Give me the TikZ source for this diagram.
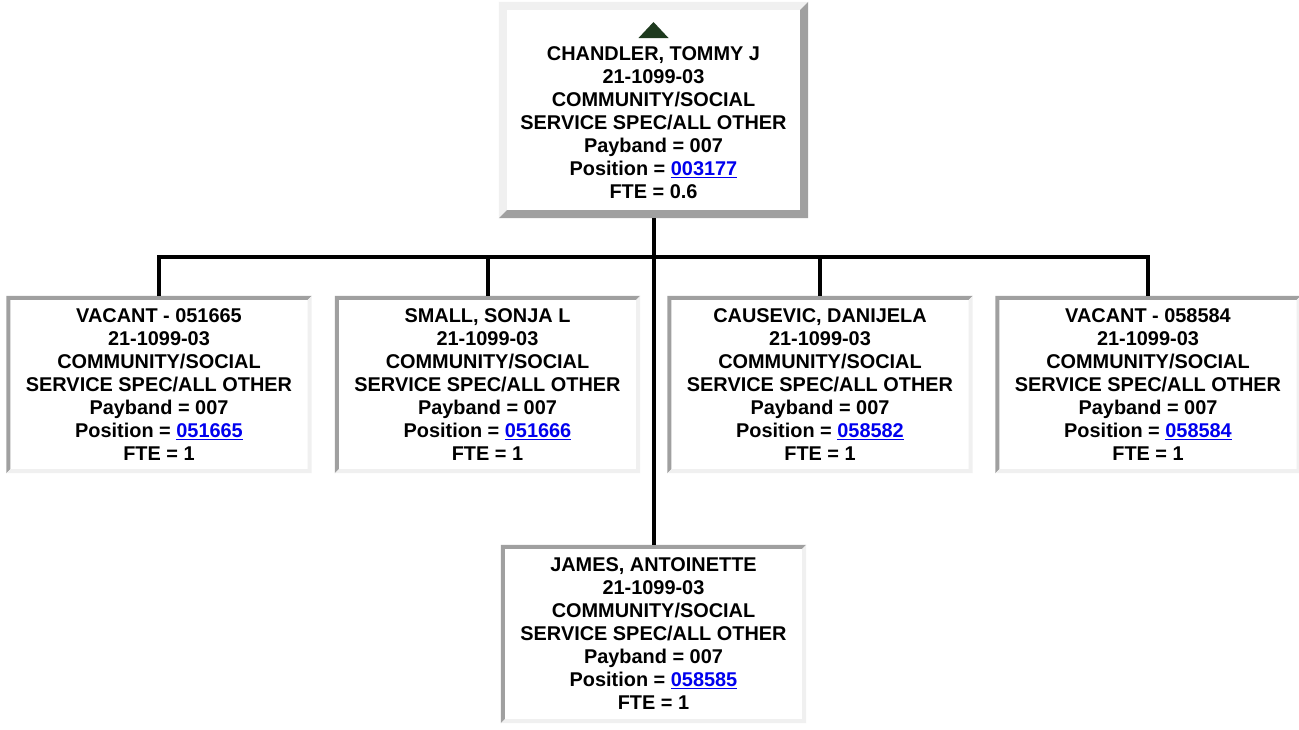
\documentclass[tikz,border=0pt]{standalone}
\usepackage{fontspec}
\setmainfont{Liberation Sans}
\definecolor{darkb}{HTML}{A0A0A0}
\definecolor{lightb}{HTML}{F0F0F0}
\definecolor{linkc}{HTML}{0000EE}
\definecolor{trig}{HTML}{1E3A1E}
\newcommand\lnk[1]{\textcolor{linkc}{\underline{#1}}}
% #1 node name, #2 border width, #3 top/left colour, #4 bottom/right colour
\newcommand\bevel[4]{%
  \fill[#3] (#1.north west) -- (#1.north east) -- ([xshift=-#2,yshift=-#2]#1.north east)
    -- ([xshift=#2,yshift=-#2]#1.north west) -- ([xshift=#2,yshift=#2]#1.south west)
    -- (#1.south west) -- cycle;
  \fill[#4] (#1.south east) -- (#1.north east) -- ([xshift=-#2,yshift=-#2]#1.north east)
    -- ([xshift=-#2,yshift=#2]#1.south east) -- ([xshift=#2,yshift=#2]#1.south west)
    -- (#1.south west) -- cycle;}
\tikzset{
  box/.style={fill=white, inner sep=0pt, minimum width=305pt, minimum height=177pt},
  topbox/.style={fill=white, inner sep=0pt, minimum width=309pt, minimum height=216pt},
  txt/.style={align=center, inner sep=0pt, font=\fontsize{19.9}{23}\selectfont\bfseries},
  conn/.style={line width=4pt}
}
\begin{document}
\begin{tikzpicture}[x=1pt,y=-1pt]
\useasboundingbox[fill=white] (0,0) rectangle (1299,729);
% boxes
\node[topbox] (top) at (653.5,110) {};
\node[box] (c1) at (159,384.5) {};
\node[box] (c2) at (487.5,384.5) {};
\node[box] (c3) at (820,384.5) {};
\node[box] (c4) at (1148,384.5) {};
\node[box, minimum height=178pt] (c5) at (653.5,634) {};
\bevel{top}{8pt}{lightb}{darkb}
\bevel{c1}{4pt}{darkb}{lightb}
\bevel{c2}{4pt}{darkb}{lightb}
\bevel{c3}{4pt}{darkb}{lightb}
\bevel{c4}{4pt}{darkb}{lightb}
\bevel{c5}{4pt}{darkb}{lightb}
% connectors
\coordinate (bus) at (654,257);
\draw[conn] (top.south -| bus) -- (c5.north -| bus);
\draw[conn] (c1.north) |- (bus);
\draw[conn] (c4.north) |- (bus);
\draw[conn] (c2.north) -- (c2.north |- bus);
\draw[conn] (c3.north) -- (c3.north |- bus);
% triangle
\fill[trig] (638.5,38) -- (668.5,38) -- (653.5,22) -- cycle;
% texts
\node[txt] (t0) at (653.5,122.5) {CHANDLER, TOMMY J\\21-1099-03\\COMMUNITY/SOCIAL\\SERVICE SPEC/ALL OTHER\\Payband = 007\\Position = \lnk{003177}\\FTE = 0.6};
\node[txt] (t1) at (159,384.5) {VACANT - 051665\\21-1099-03\\COMMUNITY/SOCIAL\\SERVICE SPEC/ALL OTHER\\Payband = 007\\Position = \lnk{051665}\\FTE = 1};
\node[txt] (t2) at (487.5,384.5) {SMALL, SONJA L\\21-1099-03\\COMMUNITY/SOCIAL\\SERVICE SPEC/ALL OTHER\\Payband = 007\\Position = \lnk{051666}\\FTE = 1};
\node[txt] (t3) at (820,384.5) {CAUSEVIC, DANIJELA\\21-1099-03\\COMMUNITY/SOCIAL\\SERVICE SPEC/ALL OTHER\\Payband = 007\\Position = \lnk{058582}\\FTE = 1};
\node[txt] (t4) at (1148,384.5) {VACANT - 058584\\21-1099-03\\COMMUNITY/SOCIAL\\SERVICE SPEC/ALL OTHER\\Payband = 007\\Position = \lnk{058584}\\FTE = 1};
\node[txt] (t5) at (653.5,634) {JAMES, ANTOINETTE\\21-1099-03\\COMMUNITY/SOCIAL\\SERVICE SPEC/ALL OTHER\\Payband = 007\\Position = \lnk{058585}\\FTE = 1};
\end{tikzpicture}
\end{document}
